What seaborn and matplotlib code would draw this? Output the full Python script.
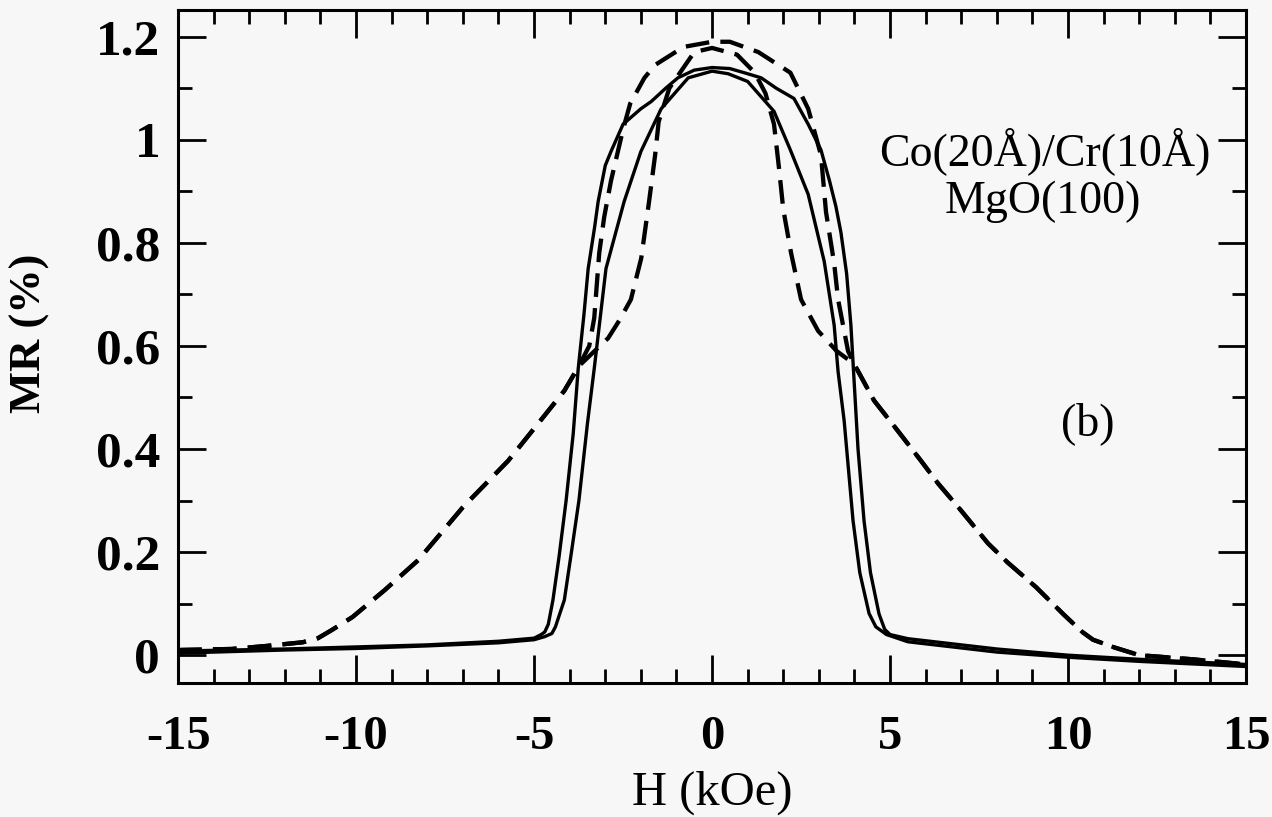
import matplotlib
matplotlib.use("Agg")
import matplotlib.pyplot as plt
import seaborn as sns
import pandas as pd
from matplotlib.ticker import MultipleLocator

# ---------------- data ----------------
# solid branch A (wider dome)
solid_a_H = [-15, -12, -10, -8, -6, -5, -4.8, -4.7, -4.6, -4.47, -4.3, -4.1, -3.9, -3.76,
             -3.6, -3.48, -3.3, -3.2, -3.0, -2.84, -2.5, -2.0, -1.71, -1.3, -0.96, -0.5, 0,
             0.5, 0.9, 1.38, 1.8, 2.3, 2.7, 3.06, 3.3, 3.48, 3.62, 3.78, 3.9, 4.0, 4.1, 4.27,
             4.45, 4.69, 4.85, 5.0, 5.5, 6, 8, 10, 12, 15]
solid_a_MR = [0.008, 0.012, 0.016, 0.02, 0.027, 0.033, 0.04, 0.045, 0.06, 0.107, 0.19, 0.30,
              0.43, 0.556, 0.66, 0.75, 0.83, 0.88, 0.95, 0.977, 1.03, 1.06, 1.074, 1.10, 1.12,
              1.135, 1.14, 1.138, 1.13, 1.12, 1.10, 1.08, 1.03, 0.98, 0.92, 0.87, 0.82, 0.74,
              0.64, 0.52, 0.40, 0.26, 0.16, 0.08, 0.05, 0.04, 0.032, 0.028, 0.012, 0.0,
              -0.008, -0.018]

# solid branch B (narrower dome)
solid_b_H = [-15, -12, -10, -8, -6, -5, -4.7, -4.5, -4.4, -4.15, -3.95, -3.74, -3.5, -3.31,
             -2.98, -2.47, -2.0, -1.43, -0.67, 0, 0.45, 1.0, 1.74, 2.2, 2.7, 3.15, 3.43, 3.54,
             3.71, 3.96, 4.15, 4.41, 4.6, 4.9, 5.5, 6, 8, 10, 12, 15]
solid_b_MR = [0.004, 0.01, 0.013, 0.018, 0.024, 0.03, 0.036, 0.042, 0.055, 0.107, 0.2, 0.30,
              0.45, 0.556, 0.75, 0.88, 0.977, 1.06, 1.12, 1.133, 1.128, 1.113, 1.055, 0.98,
              0.894, 0.764, 0.64, 0.55, 0.455, 0.261, 0.16, 0.081, 0.055, 0.04, 0.026, 0.022,
              0.006, -0.004, -0.012, -0.022]

# dashed curves: shared wings
wing_left_H = [-15, -13.5, -12.5, -11.5, -11.07, -10.7, -10.1, -9.2, -8.26, -7.0, -5.73,
               -4.89, -4.15, -3.74]
wing_left_MR = [0.01, 0.012, 0.018, 0.025, 0.033, 0.048, 0.074, 0.126, 0.184, 0.287, 0.377,
                0.449, 0.513, 0.561]
wing_right_H = [3.99, 4.55, 5.22, 5.87, 6.35, 6.99, 7.75, 8.3, 9.1, 9.89, 10.4, 10.7, 11.3,
                12.0, 13.5, 15]
wing_right_MR = [0.565, 0.494, 0.435, 0.377, 0.333, 0.281, 0.217, 0.18, 0.132, 0.078, 0.045,
                 0.03, 0.015, 0.0, -0.008, -0.018]

# dashed outer dome
dome_outer_H = [-3.45, -3.31, -3.17, -3.03, -2.84, -2.5, -2.3, -1.9, -1.6, -0.8, 0, 0.5, 1.3,
                2.2, 2.7, 3.06, 3.2, 3.43, 3.54, 3.82]
dome_outer_MR = [0.6, 0.654, 0.78, 0.85, 0.92, 1.02, 1.07, 1.12, 1.145, 1.18, 1.19, 1.19,
                 1.17, 1.13, 1.06, 0.97, 0.86, 0.76, 0.69, 0.59]
# dashed inner dome
dome_inner_H = [-3.3, -2.92, -2.6, -2.28, -1.99, -1.77, -1.6, -1.5, -1.2, -0.5, 0, 0.7, 1.2,
                1.5, 1.74, 1.88, 2.0, 2.22, 2.5, 2.98, 3.5]
dome_inner_MR = [0.59, 0.615, 0.65, 0.69, 0.77, 0.88, 0.97, 1.035, 1.10, 1.17, 1.178, 1.165,
                 1.13, 1.09, 1.03, 0.945, 0.865, 0.78, 0.69, 0.629, 0.59]

x_ticks = [-15, -10, -5, 0, 5, 10, 15]
x_tick_labels = ["-15", "-10", "-5", "0", "5", "10", "15"]
y_ticks = [0, 0.2, 0.4, 0.6, 0.8, 1.0, 1.2]
y_tick_labels = ["0", "0.2", "0.4", "0.6", "0.8", "1", "1.2"]

# ---------------- figure ----------------
bg = "#f7f7f7"
sns.set_theme(style="ticks")
plt.rcParams["font.family"] = ["Liberation Serif", "DejaVu Serif"]
plt.rcParams["text.color"] = "black"
plt.rcParams["axes.labelcolor"] = "black"
plt.rcParams["xtick.color"] = "black"
plt.rcParams["ytick.color"] = "black"

fig = plt.figure(figsize=(12.72, 8.17), dpi=100, facecolor=bg)
ax = fig.add_axes([0.140, 0.164, 0.8396, 0.824])
ax.set_facecolor(bg)

solid_a = pd.DataFrame({"H": solid_a_H, "MR": solid_a_MR})
solid_b = pd.DataFrame({"H": solid_b_H, "MR": solid_b_MR})
dash_outer = pd.DataFrame({"H": wing_left_H + dome_outer_H + wing_right_H,
                           "MR": wing_left_MR + dome_outer_MR + wing_right_MR})
dash_inner = pd.DataFrame({"H": wing_left_H + dome_inner_H + wing_right_H,
                           "MR": wing_left_MR + dome_inner_MR + wing_right_MR})

for df in (solid_a, solid_b):
    sns.lineplot(data=df, x="H", y="MR", ax=ax, sort=False, estimator=None,
                 color="black", linewidth=2.4)
for df in (dash_outer, dash_inner):
    sns.lineplot(data=df, x="H", y="MR", ax=ax, sort=False, estimator=None,
                 color="black", linewidth=3.1, linestyle=(0, (5.5, 2.6)))

ax.set_xlim(-15, 15)
ax.set_ylim(-0.054, 1.252)

ax.set_xticks(x_ticks, x_tick_labels)
ax.set_yticks(y_ticks, y_tick_labels)
ax.xaxis.set_minor_locator(MultipleLocator(1))
ax.yaxis.set_minor_locator(MultipleLocator(0.1))

for s in ax.spines.values():
    s.set_visible(True)
    s.set_linewidth(2.2)
    s.set_color("black")

ax.tick_params(which="both", direction="in", top=True, right=True, color="black")
ax.tick_params(which="major", length=20, width=2.0)
ax.tick_params(which="minor", length=10, width=2.0)
ax.tick_params(axis="x", which="major", labelsize=35, pad=23, labelcolor="black")
ax.tick_params(axis="y", which="major", labelsize=37, pad=13, labelcolor="black")
for lab in ax.get_yticklabels():
    lab.set_fontweight("bold")
for lab in ax.get_xticklabels():
    lab.set_fontweight("bold")

ax.set_xlabel("H (kOe)", fontsize=35, labelpad=0, color="black")
ax.set_ylabel("MR (%)", fontsize=32, fontweight="bold", labelpad=8, color="black")
ax.xaxis.set_label_coords(0.5, -0.13)
ax.yaxis.set_label_coords(-0.12, 0.52)

fig.text(1045 / 1272, 1 - 165 / 817, "Co(20Å)/Cr(10Å)", fontsize=33,
         ha="center", va="baseline", color="black")
fig.text(1043 / 1272, 1 - 213 / 817, "MgO(100)", fontsize=33,
         ha="center", va="baseline", color="black")
fig.text(1088 / 1272, 1 - 435 / 817, "(b)", fontsize=33, ha="center", va="baseline",
         color="black")

fig.savefig("out.png", dpi=100, facecolor=bg)
